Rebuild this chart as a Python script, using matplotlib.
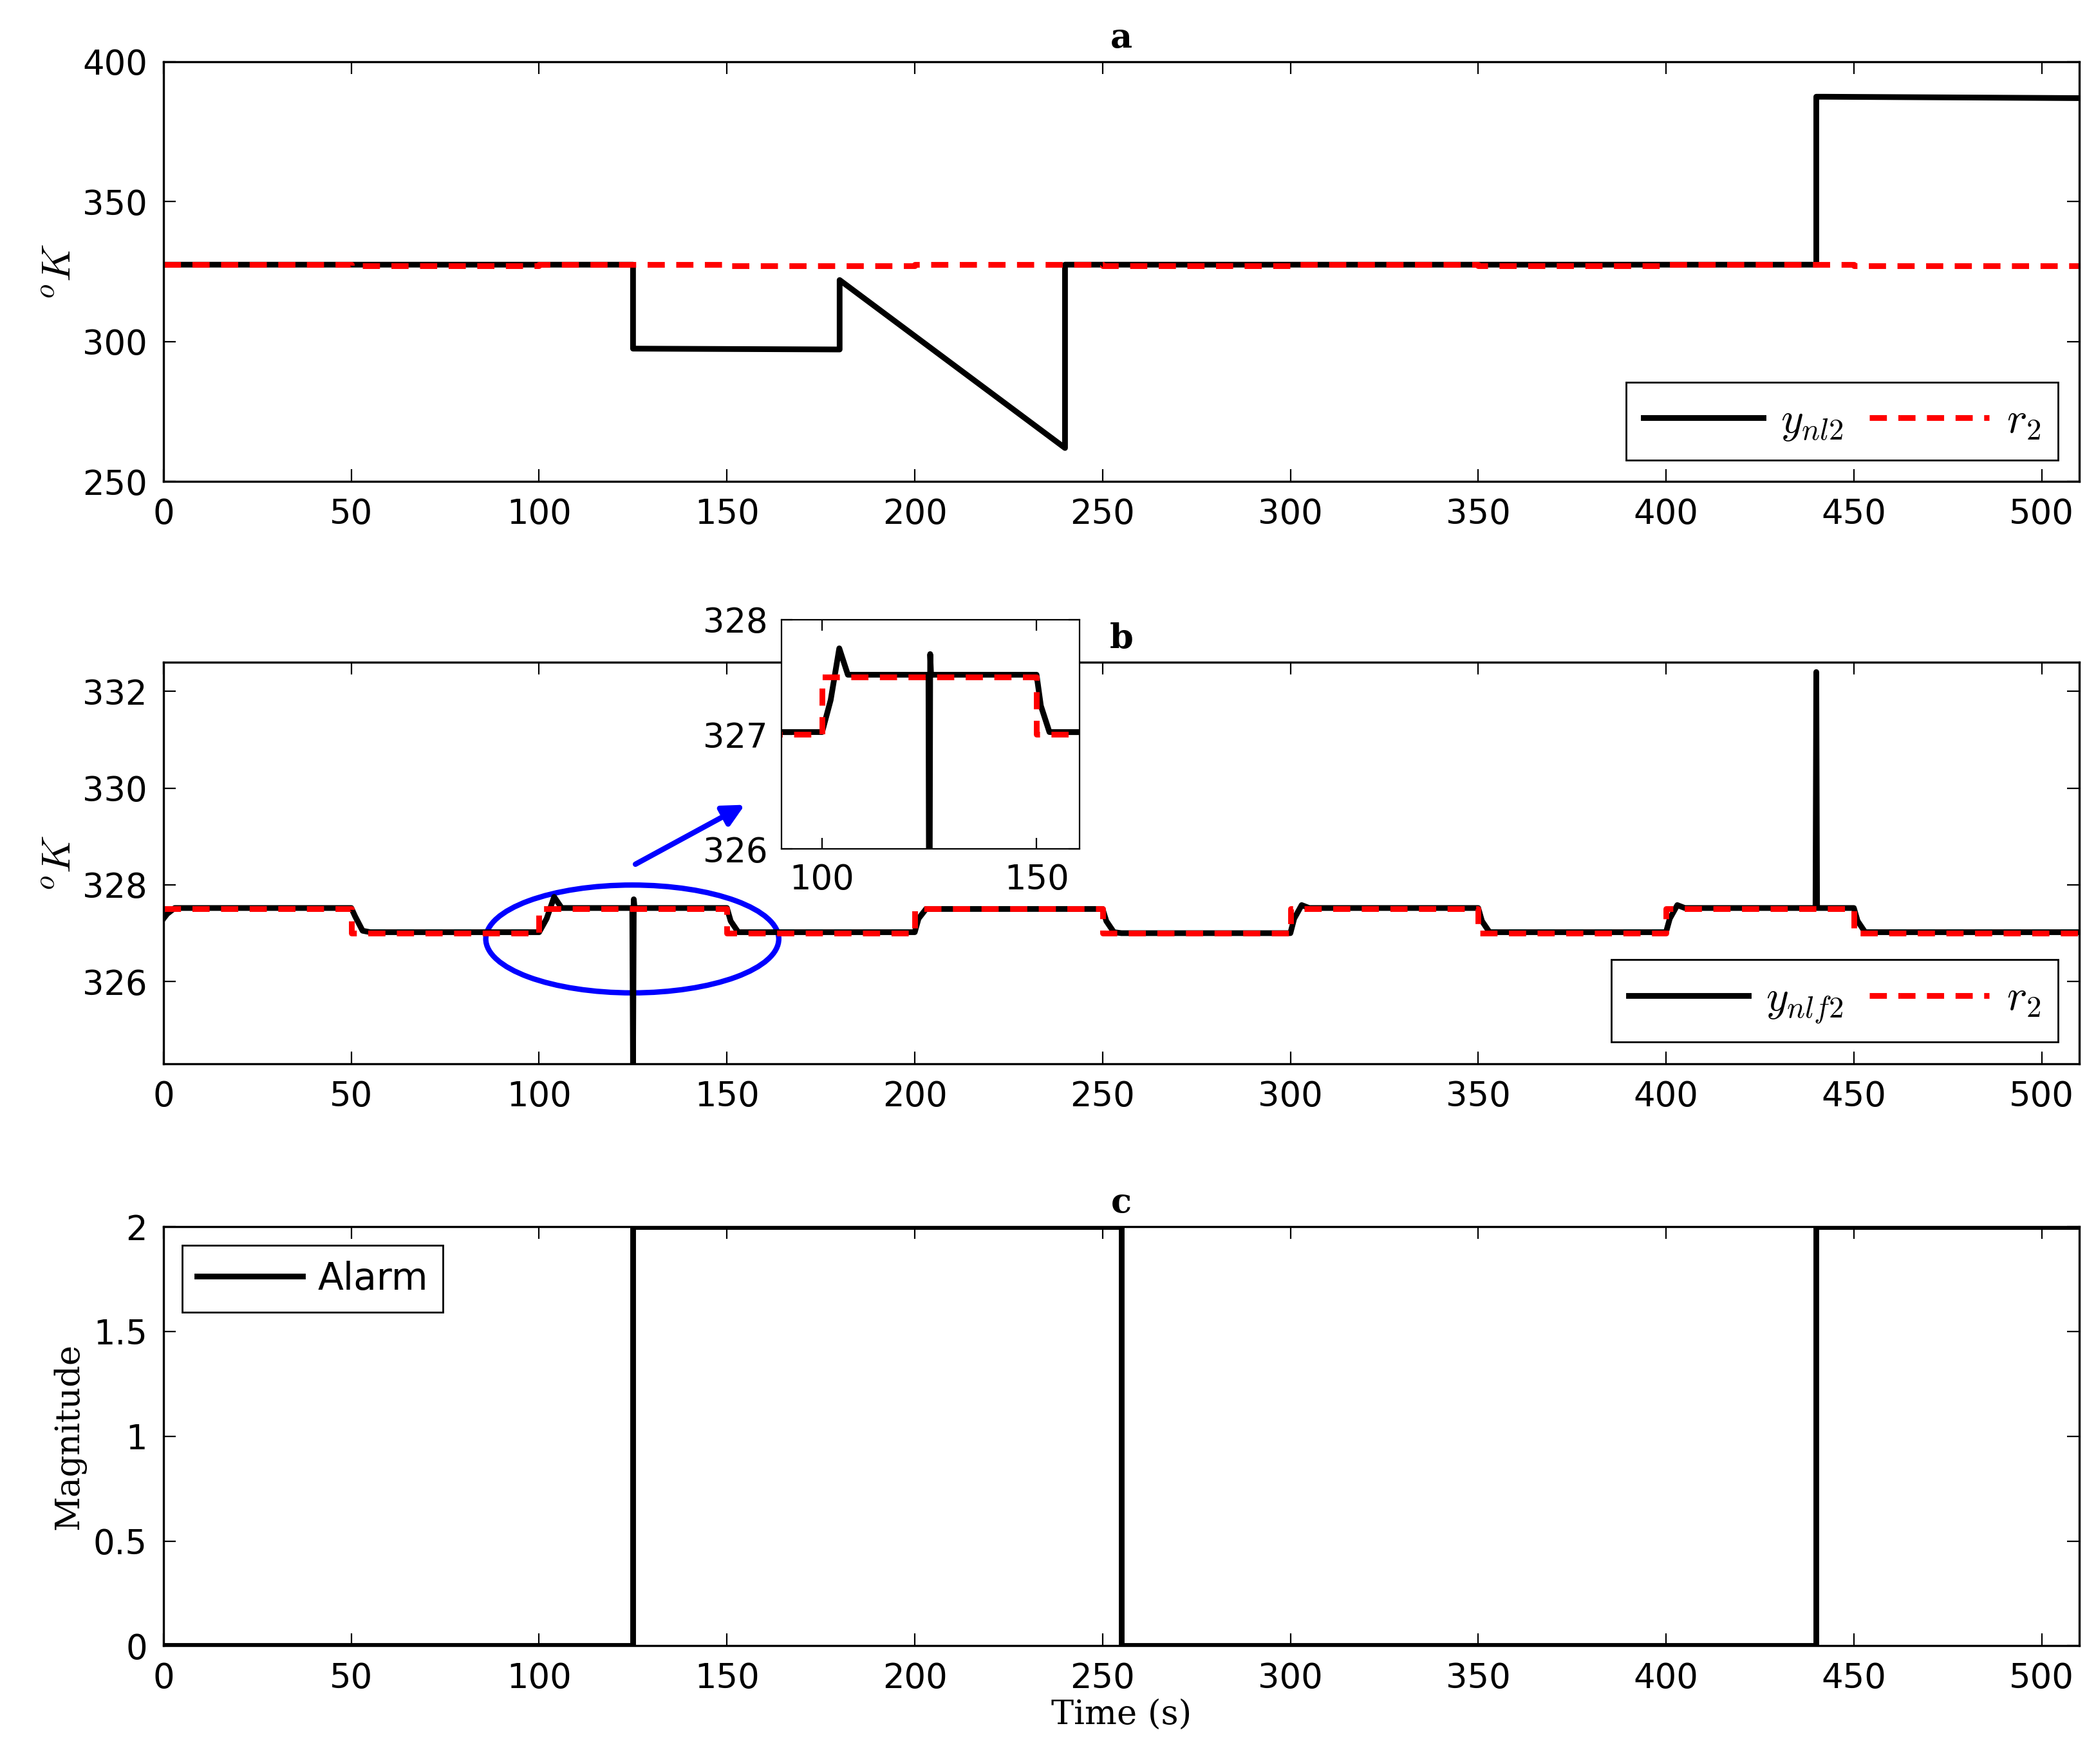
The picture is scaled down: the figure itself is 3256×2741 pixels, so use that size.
import matplotlib
matplotlib.use("Agg")
import matplotlib.pyplot as plt
from matplotlib.patches import Ellipse

# reference r2 (step breakpoints)
r_t = [0, 50, 50, 100, 100, 150, 150, 200, 200, 250, 250, 300, 300, 350, 350, 400, 400, 450, 450, 510]
r_v = [327.5, 327.5, 327.0, 327.0, 327.5, 327.5, 327.0, 327.0, 327.5, 327.5, 327.0, 327.0, 327.5, 327.5, 327.0, 327.0, 327.5, 327.5, 327.0, 327.0]

# ynl2 (faulty sensor)
a_t = [0, 125, 125, 180, 180, 240, 240, 440, 440, 442, 510]
a_v = [327.5, 327.5, 297.5, 297.2, 322.0, 262.0, 327.5, 327.5, 387.5, 387.5, 387.0]

# ynlf2 (filtered / fault-tolerant output)
b_t = [0, 1, 3, 50, 51, 53, 55, 100, 102, 104, 106, 108, 124.8, 125, 125.2, 125.4, 150, 151, 153, 155,
       200, 201, 203, 205, 250, 251, 253, 255, 300, 301, 303, 305, 350, 351, 353, 355, 400, 401, 403, 405,
       439.8, 440, 440.2, 440.4, 450, 451, 453, 455, 510]
b_v = [327.3, 327.4, 327.52, 327.52, 327.35, 327.05, 327.02, 327.02, 327.3, 327.75, 327.52, 327.52, 327.52, 324.3, 327.7, 327.52,
       327.52, 327.25, 327.02, 327.02, 327.02, 327.3, 327.5, 327.5, 327.5, 327.25, 327.02, 327.0,
       327.0, 327.3, 327.58, 327.52, 327.52, 327.25, 327.02, 327.02, 327.02, 327.3, 327.58, 327.52,
       327.52, 332.4, 327.52, 327.52, 327.52, 327.25, 327.02, 327.02, 327.02]

# alarm
c_t = [0, 125, 125, 255, 255, 440, 440, 510]
c_v = [0, 0, 2, 2, 0, 0, 2, 2]

W, H = 3256, 2741
plt.rcParams['font.family'] = 'DejaVu Sans'
plt.rcParams['mathtext.fontset'] = 'cm'
fig = plt.figure(figsize=(W / 200, H / 200), dpi=200)
serif = 'DejaVu Serif'
FS = 19
L, Wd = 0.078, 0.914
LW = 3.2

def style(ax):
    ax.set_xlim(0, 510)
    ax.set_xticks(list(range(0, 501, 50)))
    ax.tick_params(labelsize=FS, direction='in', length=7, top=True, right=True, pad=9)
    for s in ax.spines.values():
        s.set_linewidth(1.2)

leg_kw = dict(fancybox=False, edgecolor='black', handlelength=2.8, columnspacing=0.6,
              handletextpad=0.4, borderpad=0.4, framealpha=1)

axa = fig.add_axes([L, 0.727, Wd, 0.238])
axa.plot(a_t, a_v, color='black', lw=LW, label=r'$y_{nl2}$')
axa.plot(r_t, r_v, color='red', lw=LW, ls=(0, (3, 2)), label=r'$r_2$')
axa.set_ylim(250, 400)
axa.set_yticks([250, 300, 350, 400])
style(axa)
axa.set_ylabel(r'$^oK$', fontsize=FS + 4, labelpad=2)
axa.set_title('a', fontsize=FS, family=serif, fontweight='bold', pad=8)
axa.legend(loc='lower right', ncol=2, fontsize=FS + 5, borderaxespad=0.5, **leg_kw)

axb = fig.add_axes([L, 0.397, Wd, 0.2275])
axb.plot(b_t, b_v, color='black', lw=LW, label=r'$y_{nlf2}$')
axb.plot(r_t, r_v, color='red', lw=LW, ls=(0, (3, 2)), label=r'$r_2$')
axb.set_ylim(324.3, 332.6)
axb.set_yticks([326, 328, 330, 332])
style(axb)
axb.set_ylabel(r'$^oK$', fontsize=FS + 4, labelpad=2)
axb.set_title('b', fontsize=FS, family=serif, fontweight='bold', pad=8)
axb.legend(loc='lower right', ncol=2, fontsize=FS + 5, borderaxespad=0.5, **leg_kw)
axb.add_patch(Ellipse((124.8, 326.88), 78, 2.23, fill=False, edgecolor='blue', lw=3))
axb.annotate('', xy=(155.6, 329.69), xytext=(124.8, 328.39),
             arrowprops=dict(arrowstyle='-|>', color='blue', lw=3, mutation_scale=25))

axi = fig.add_axes([0.373, 0.5187, 0.142, 0.130])
axi.plot(b_t, b_v, color='black', lw=LW)
axi.plot(r_t, r_v, color='red', lw=LW, ls=(0, (3, 2)))
axi.set_xlim(90.6, 160)
axi.set_ylim(326, 328)
axi.set_xticks([100, 150])
axi.set_yticks([326, 327, 328])
axi.tick_params(labelsize=FS, direction='in', length=6, top=True, right=True, pad=8)

axc = fig.add_axes([L, 0.067, Wd, 0.2376])
axc.plot(c_t, c_v, color='black', lw=LW, label='Alarm')
axc.set_ylim(0, 2)
axc.set_yticks([0, 0.5, 1, 1.5, 2])
axc.set_yticklabels(['0', '0.5', '1', '1.5', '2'])
style(axc)
axc.set_ylabel('Magnitude', fontsize=FS, family=serif)
axc.set_xlabel('Time (s)', fontsize=FS, family=serif, labelpad=2)
axc.set_title('c', fontsize=FS, family=serif, fontweight='bold', pad=8)
axc.legend(loc='upper left', fontsize=FS + 2, borderaxespad=0.5, **leg_kw)

fig.savefig('out.png', dpi=200)
